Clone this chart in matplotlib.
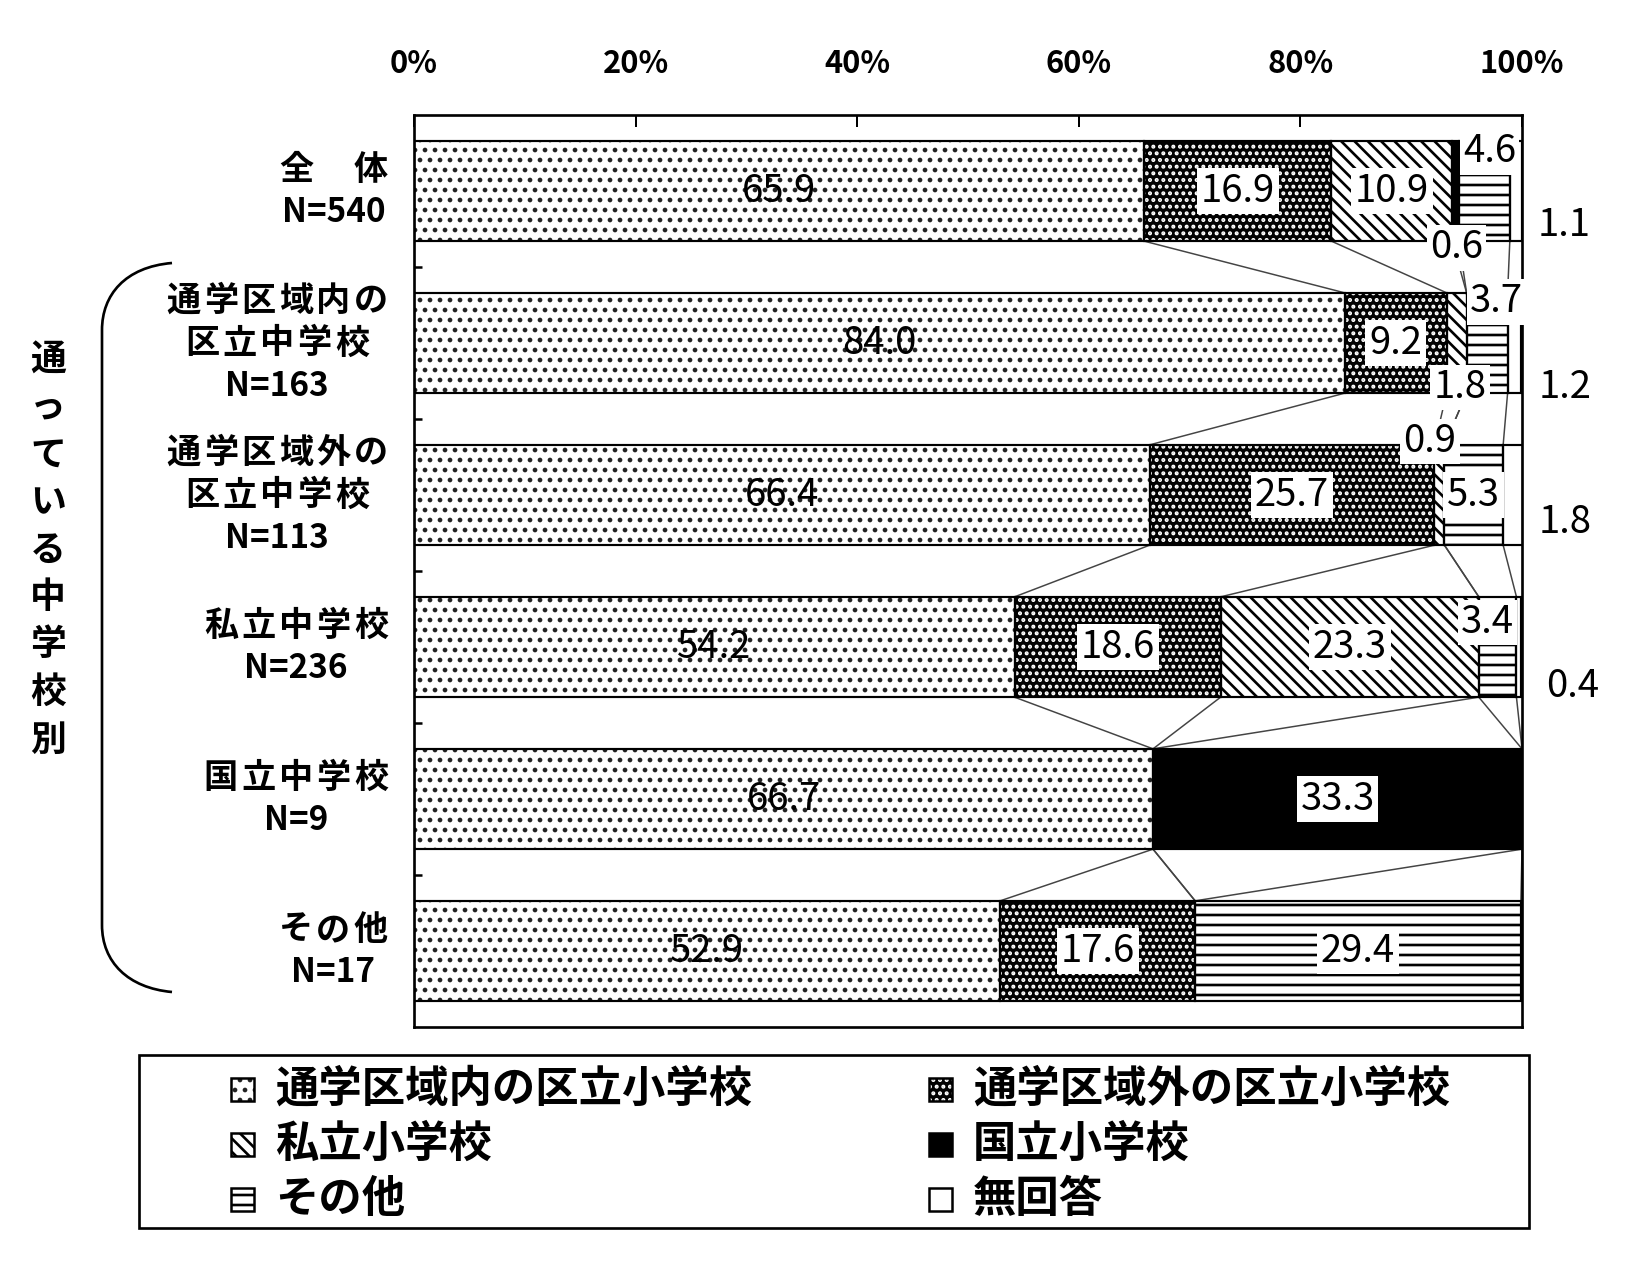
"""通っている中学校別 出身小学校の構成比 (帯グラフ)"""

import numpy as np
import matplotlib
matplotlib.use('Agg')
import matplotlib.pyplot as plt
from matplotlib.patches import Rectangle, PathPatch
from matplotlib.path import Path

plt.rcParams['font.family'] = ['Noto Sans CJK JP', 'DejaVu Sans']
plt.rcParams['hatch.linewidth'] = 1.6
NUM_FONT = ['Noto Sans CJK JP', 'DejaVu Sans']
BS = chr(92)  # backslash for hatch

# data
categories = ['全　体', '通学区域内の\n区立中学校', '通学区域外の\n区立中学校',
              '私立中学校', '国立中学校', 'その他']
n_counts = [540, 163, 113, 236, 9, 17]
series_names = ['通学区域内の区立小学校', '通学区域外の区立小学校', '私立小学校',
                '国立小学校', 'その他', '無回答']
s_inside = [65.9, 84.0, 66.4, 54.2, 66.7, 52.9]
s_outside = [16.9, 9.2, 25.7, 18.6, 0.0, 17.6]
s_private = [10.9, 1.8, 0.9, 23.3, 0.0, 0.0]
s_national = [0.6, 0.0, 0.0, 0.0, 33.3, 0.0]
s_other = [4.6, 3.7, 5.3, 3.4, 0.0, 29.4]
s_noans = [1.1, 1.2, 1.8, 0.4, 0.0, 0.0]
tick_pct = [0, 20, 40, 60, 80, 100]
side_title = '通っている中学校別'

series = [s_inside, s_outside, s_private, s_national, s_other, s_noans]

# (face, hatch, hatch colour) per series
styles = [('white', '..', '#222222'),
          ('black', '...', 'white'),
          ('white', BS * 3, 'black'),
          ('black', None, 'black'),
          ('white', '--', 'black'),
          ('white', None, 'black')]

# hand placed small labels: (row, series) -> (x, y)
special_pos = {(0, 3): (94.1, 0.375), (0, 4): (97.1, -0.257), (0, 5): (103.8, 0.23),
               (1, 2): (94.4, 1.29), (1, 4): (97.7, 0.73), (1, 5): (103.9, 1.29),
               (2, 2): (91.7, 1.65), (2, 5): (103.9, 2.18),
               (3, 4): (96.9, 2.84), (3, 5): (104.6, 3.26)}

fig = plt.figure(figsize=(1638 / 120, 1280 / 120), dpi=120)
ax = fig.add_axes([414 / 1638, 1 - 1027 / 1280, 1108 / 1638, 912 / 1280])

y = np.arange(len(categories))
h = 0.66
lefts = np.zeros(len(categories))
cums = []
for k, vals in enumerate(series):
    vals = np.array(vals)
    face, hatch, hcol = styles[k]
    m = vals > 0
    ax.barh(y[m], vals[m], left=lefts[m], height=h, color=face, hatch=hatch,
            edgecolor=hcol, linewidth=0, zorder=2)
    ax.barh(y[m], vals[m], left=lefts[m], height=h, fill=False,
            edgecolor='black', linewidth=1.3, zorder=3)
    for i in np.where(m)[0]:
        txt = f'{vals[i]:.1f}'
        if (i, k) in special_pos:
            tx, ty = special_pos[(i, k)]
            box = None if k == 5 else dict(boxstyle='square,pad=0.08', fc='white', ec='none')
        else:
            tx, ty = lefts[i] + vals[i] / 2, y[i]
            box = None if k == 0 else dict(boxstyle='square,pad=0.1', fc='white', ec='none')
        ax.text(tx, ty, txt, ha='center', va='center', fontsize=23,
                family=NUM_FONT, bbox=box, zorder=5, clip_on=False)
    lefts = lefts + vals
    cums.append(lefts.copy())

# series lines between bars
for k in range(5):
    c = cums[k]
    for i in range(len(categories) - 1):
        ax.plot([c[i], c[i + 1]], [y[i] + h / 2, y[i + 1] - h / 2],
                color='#444444', linewidth=0.9, zorder=1)

ax.set_xlim(0, 100)
ax.set_ylim(len(categories) - 0.5, -0.5)
ax.xaxis.tick_top()
ax.set_xticks(tick_pct)
ax.set_xticklabels([f'{t}%' for t in tick_pct])
ax.tick_params(axis='x', direction='in', length=7, width=1.2, pad=21, labelsize=18.5)
for lbl in ax.get_xticklabels():
    lbl.set_fontweight('bold')

ax.set_yticks(y)
ax.set_yticklabels([''] * len(categories))
ax.tick_params(axis='y', length=0)
ax.set_yticks(np.arange(0.5, len(categories) - 1, 1), minor=True)
ax.tick_params(axis='y', which='minor', direction='in', length=5, width=1.5)
for sp in ax.spines.values():
    sp.set_linewidth(1.6)

# overlay in pixel coordinates for row labels, bracket, side title and legend
ov = fig.add_axes([0, 0, 1, 1])
ov.set_xlim(0, 1638)
ov.set_ylim(1280, 0)
ov.axis('off')
ov.patch.set_visible(False)

# row labels, spread character by character like the original
cat_fs = 20.5
em_px = cat_fs * 120 / 72
pitch, line_h, right_edge = 37.5, 43, 388
for i, cat in enumerate(categories):
    lines = cat.split('\n')
    yc = 1280 - ax.transData.transform((0, y[i]))[1]
    nmax = max(len(l) for l in lines)
    cx = right_edge - ((nmax - 1) * pitch + em_px) / 2
    n_lines = len(lines) + 1
    for j, line in enumerate(lines):
        ly = yc + (j - (n_lines - 1) / 2) * line_h
        x0 = cx - (len(line) - 1) * pitch / 2
        for m, ch in enumerate(line):
            ov.text(x0 + m * pitch, ly, ch, ha='center', va='center',
                    fontsize=cat_fs, fontweight='bold')
    ov.text(cx, yc + (n_lines - 1) / 2 * line_h, f'N={n_counts[i]}',
            ha='center', va='center', fontsize=cat_fs - 0.5, fontweight='bold')

verts = [(172, 263), (125, 267), (102, 295), (102, 330),
         (102, 925),
         (102, 962), (128, 988), (172, 992)]
codes = [Path.MOVETO, Path.CURVE4, Path.CURVE4, Path.CURVE4,
         Path.LINETO,
         Path.CURVE4, Path.CURVE4, Path.CURVE4]
ov.add_patch(PathPatch(Path(verts, codes), fill=False, lw=1.6, ec='black'))

for j, ch in enumerate(side_title):
    ov.text(48, 360 + j * 47.5, ch, ha='center', va='center', fontsize=21.5,
            fontweight='bold')

# legend
ov.add_patch(Rectangle((139, 1055), 1390, 173, fill=False, lw=1.6, ec='black'))
leg_cols = [231, 929]
leg_rows = [1089, 1144, 1199]
order = [0, 2, 4, 1, 3, 5]
for pos, k in enumerate(order):
    cx = leg_cols[pos // 3]
    cy = leg_rows[pos % 3]
    face, hatch, hcol = styles[k]
    ov.add_patch(Rectangle((cx, cy - 11.5), 23, 23, facecolor=face, hatch=hatch,
                           edgecolor=hcol, lw=0))
    ov.add_patch(Rectangle((cx, cy - 11.5), 23, 23, fill=False, edgecolor='black', lw=1.5))
    ov.text(cx + 44, cy, series_names[k], ha='left', va='center', fontsize=26,
            fontweight='bold')

fig.savefig('out.png', dpi=120, facecolor='white')
